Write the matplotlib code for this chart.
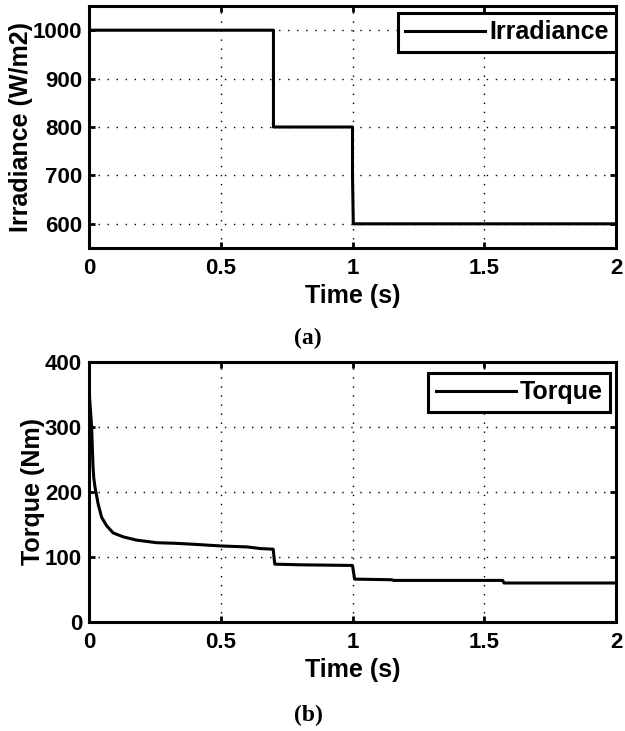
import matplotlib.pyplot as plt

plt.rcParams['font.family'] = ['Liberation Sans', 'DejaVu Sans']
plt.rcParams['font.weight'] = 'bold'
plt.rcParams['axes.labelweight'] = 'bold'

# irradiance profile (W/m2)
irr_t = [0, 0.7, 0.7, 1.0, 1.0, 1.003, 2.0]
irr_v = [1000, 1000, 800, 800, 700, 600, 600]

# torque response (Nm)
torque_t = [0, 0.002, 0.01, 0.015, 0.018, 0.023, 0.035, 0.048, 0.067, 0.092,
            0.13, 0.18, 0.257, 0.333, 0.4, 0.5, 0.6, 0.65, 0.699, 0.705,
            0.8, 1.0, 1.008, 1.15, 1.155, 1.57, 1.575, 2.0]
torque_v = [400, 346, 300, 241, 222, 207, 181, 161, 148, 137,
            131, 126, 122, 121, 119.5, 117, 115.5, 113, 112, 89,
            88, 87, 66, 65, 64, 64, 60, 60]

x_ticks = [0, 0.5, 1, 1.5, 2]
x_labels = ['0', '0.5', '1', '1.5', '2']
irr_ticks = [600, 700, 800, 900, 1000]
torque_ticks = [0, 100, 200, 300, 400]

fig = plt.figure(figsize=(6.25, 7.31), dpi=100)
ax1 = fig.add_axes([0.1424, 0.6607, 0.8432, 0.3311])
ax2 = fig.add_axes([0.1424, 0.1491, 0.8432, 0.3557])

lw = 2.2
ax1.plot(irr_t, irr_v, color='black', lw=lw, label='Irradiance')
ax2.plot(torque_t, torque_v, color='black', lw=lw, label='Torque')

ax1.set_ylim(550, 1050)
ax1.set_yticks(irr_ticks)
ax1.set_ylabel('Irradiance (W/m2)', fontsize=18, labelpad=0)
ax2.set_ylim(0, 400)
ax2.set_yticks(torque_ticks)
ax2.set_ylabel('Torque (Nm)', fontsize=18, labelpad=0)

for ax, anchor in [(ax1, (1.0, 1 - 7 / 242)), (ax2, (1 - 6 / 527, 1 - 11 / 260))]:
    ax.set_xlim(0, 2)
    ax.set_xticks(x_ticks)
    ax.set_xticklabels(x_labels)
    ax.set_xlabel('Time (s)', fontsize=18, labelpad=4)
    ax.grid(True, color='black', linestyle=(0, (1, 5.5)), lw=1.0)
    ax.tick_params(direction='in', length=4, width=2, top=True, right=True,
                   labelsize=16)
    ax.tick_params(axis='x', pad=7)
    ax.tick_params(axis='y', pad=5)
    for s in ax.spines.values():
        s.set_linewidth(2.2)
    leg = ax.legend(loc='upper right', bbox_to_anchor=anchor, borderaxespad=0,
                    fancybox=False, framealpha=1, edgecolor='black',
                    fontsize=18, handlelength=3.2, handletextpad=0.15,
                    borderpad=0.3)
    leg.get_frame().set_linewidth(2.2)

fig.text(308 / 625, 1 - 338 / 731, '(a)', family='Liberation Serif',
         fontsize=17, weight='bold', ha='center', va='center')
fig.text(308 / 625, 1 - 715 / 731, '(b)', family='Liberation Serif',
         fontsize=17, weight='bold', ha='center', va='center')

fig.savefig('out.png', dpi=100)
